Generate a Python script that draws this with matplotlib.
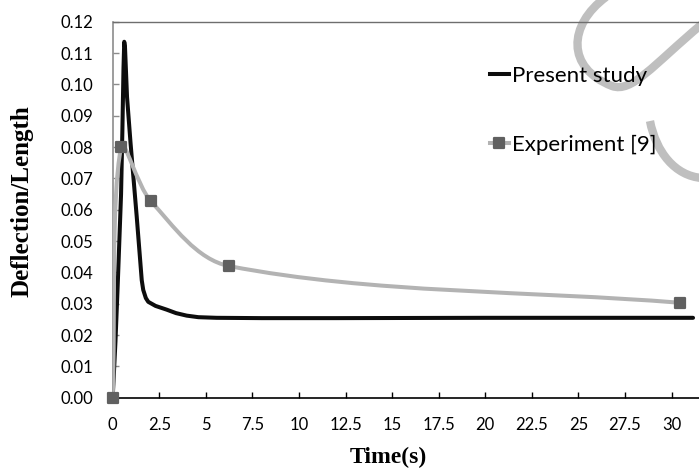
import numpy as np
import matplotlib
matplotlib.use("Agg")
import matplotlib.pyplot as plt
from matplotlib.path import Path
from matplotlib.patches import PathPatch
from matplotlib.lines import Line2D
from matplotlib.markers import MarkerStyle
from matplotlib.ticker import MultipleLocator, FuncFormatter

plt.rcParams["font.family"] = ["Lato", "DejaVu Sans"]

# ── Data ─────────────────────────────────────────────────────────────
# Present study (numerical result)
study_t = [0.0, 0.15, 0.28, 0.45, 0.52, 0.58, 0.62, 0.66, 0.77, 0.96, 1.29,
           1.56, 1.64, 1.78, 1.91, 2.3, 2.9, 3.4, 3.97, 4.6, 5.58, 8.0,
           12.0, 20.0, 31.15]
study_d = [0.0, 0.018, 0.0375, 0.065, 0.085, 0.105, 0.1136, 0.112, 0.096,
           0.0812, 0.0578, 0.0375, 0.0344, 0.0318, 0.0306, 0.0293, 0.0281,
           0.0270, 0.0262, 0.0257, 0.0255, 0.0254, 0.0254, 0.0255, 0.0255]

# Experiment [9]
exp_t = [0.0, 0.45, 2.04, 6.26, 30.45]
exp_d = [0.0, 0.080, 0.0628, 0.042, 0.0303]

labels = ["Present study", "Experiment [9]"]

BLACK = "#0d0d0d"
LIGHT = "#b3b3b3"
MARK = "#606060"


def smooth_path(ax, xs, ys, k=1 / 3):
    """Excel-like smoothed line through the points (Bezier in display space)."""
    pts = ax.transData.transform(np.column_stack([xs, ys]))
    n = len(pts)
    tang = []
    for i in range(n):
        a, b = max(i - 1, 0), min(i + 1, n - 1)
        L = np.hypot(*(pts[b] - pts[i])) + np.hypot(*(pts[i] - pts[a]))
        tang.append((pts[b] - pts[a]) / L)
    verts, codes = [pts[0]], [Path.MOVETO]
    for i in range(n - 1):
        seg = np.hypot(*(pts[i + 1] - pts[i]))
        verts += [pts[i] + tang[i] * seg * k, pts[i + 1] - tang[i + 1] * seg * k, pts[i + 1]]
        codes += [Path.CURVE4] * 3
    return Path(ax.transData.inverted().transform(np.array(verts)), codes)


fig = plt.figure(figsize=(6.99, 4.69), dpi=100)
ax = fig.add_axes([0.1612, 0.152, 0.8388, 0.8017])
ax.patch.set_visible(False)

ax.set_xlim(0, 31.47)
ax.set_ylim(0, 0.12)

ax.plot(study_t, study_d, color=BLACK, lw=2.9, solid_joinstyle="round",
        solid_capstyle="round", zorder=3)
ax.add_patch(PathPatch(smooth_path(ax, exp_t, exp_d), facecolor="none",
                       edgecolor=LIGHT, lw=2.9, capstyle="round", zorder=4))
sq = MarkerStyle("s", joinstyle="round")
ax.plot(exp_t, exp_d, ls="none", marker=sq, ms=6.5, mfc=MARK, mec=MARK,
        mew=1.6, zorder=5, clip_on=False)

# axes styling
ax.xaxis.set_major_locator(MultipleLocator(2.5))
ax.yaxis.set_major_locator(MultipleLocator(0.01))
ax.xaxis.set_major_formatter(FuncFormatter(lambda v, p: f"{v:g}"))
ax.yaxis.set_major_formatter(FuncFormatter(lambda v, p: f"{v:.2f}"))
ax.tick_params(axis="x", direction="in", length=4.5, width=1, color="black",
               labelsize=12, pad=14)
ax.tick_params(axis="y", direction="in", length=4.5, width=1, color="#8c8c8c",
               labelsize=12, pad=14)
ax.spines["right"].set_visible(False)
ax.spines["bottom"].set_color("black")
ax.spines["bottom"].set_linewidth(1.2)
ax.spines["left"].set_color("#8c8c8c")
ax.spines["left"].set_linewidth(1.2)
ax.spines["top"].set_color("#6e6e6e")
ax.spines["top"].set_linewidth(1.0)

fig.text(388 / 699, 1 - 457 / 469, "Time(s)", ha="center", va="center",
         family="Liberation Serif", fontweight="bold", fontsize=17)
fig.text(22 / 699, 1 - 201 / 469, "Deflection/Length", ha="center", va="center",
         rotation=90, family="Liberation Serif", fontweight="bold", fontsize=18)

handles = [
    Line2D([], [], color=BLACK, lw=2.9),
    Line2D([], [], color=LIGHT, lw=2.9, marker=sq, ms=6.5, mfc=MARK, mec=MARK, mew=1.6),
]
ax.legend(handles, labels, loc="upper left", bbox_to_anchor=(490 / 699, 1 - 66 / 469),
          bbox_transform=fig.transFigure, frameon=False, fontsize=16,
          handlelength=0.85, handletextpad=0.12, labelspacing=2.2, borderpad=0,
          borderaxespad=0)

# faint pen-stroke overlay in the top right corner of the page
W, H = 699.0, 469.0
def fp(x, y):
    return (x / W, 1 - y / H)
stroke1 = Path([fp(606, -3), fp(568, 25), fp(566, 68), fp(612, 86),
                fp(632, 93), fp(652, 66), fp(702, 24)],
               [Path.MOVETO, Path.CURVE4, Path.CURVE4, Path.CURVE4,
                Path.CURVE4, Path.CURVE4, Path.CURVE4])
stroke2 = Path([fp(650, 121), fp(656, 152), fp(675, 176), fp(702, 178)],
               [Path.MOVETO, Path.CURVE4, Path.CURVE4, Path.CURVE4])
for s in (stroke1, stroke2):
    fig.add_artist(PathPatch(s, transform=fig.transFigure, facecolor="none",
                             edgecolor="#bfbfbf", lw=6, capstyle="butt", zorder=-1))

fig.savefig("out.png", dpi=100)
